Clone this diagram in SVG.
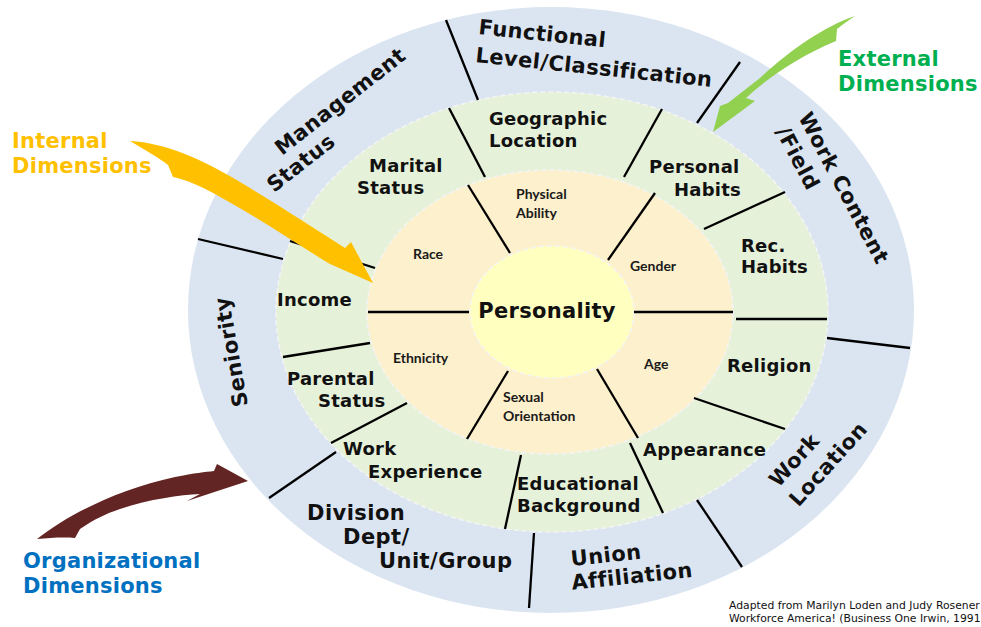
<svg xmlns="http://www.w3.org/2000/svg" width="981" height="627" viewBox="0 0 981 627">
<style>
.bg{fill:#ffffff}
.dash{stroke:#f4f4f4;stroke-width:1.5;stroke-dasharray:5 3}
.div line{stroke:#000;stroke-width:2.3;stroke-linecap:butt}
.o{font-family:"DejaVu Sans","Liberation Sans",sans-serif;font-weight:bold;font-size:21px;letter-spacing:0.45px;fill:#111}
.m{font-family:"DejaVu Sans","Liberation Sans",sans-serif;font-weight:bold;font-size:18px;letter-spacing:0.25px;fill:#111}
.i{font-family:Lato,"Liberation Sans",sans-serif;font-weight:bold;font-size:14px;fill:#1a1a1a}
.c{font-family:"DejaVu Sans","Liberation Sans",sans-serif;font-weight:bold;font-size:21px;letter-spacing:0.25px}
.f{font-family:"DejaVu Sans","Liberation Sans",sans-serif;font-size:10.8px;fill:#111}
</style>
<rect class="bg" x="0" y="0" width="981" height="627"/>
<g id="rings">
<ellipse cx="551" cy="310" rx="363" ry="303" fill="#dbe5f1"/>
<ellipse class="dash" cx="552" cy="312" rx="276" ry="220" fill="#e6f1da"/>
<ellipse class="dash" cx="550" cy="312" rx="183" ry="142" fill="#fdf0cc"/>
<ellipse class="dash" cx="552" cy="312" rx="82" ry="66" fill="#ffffc0"/>
</g>
<g id="connectors" class="div">
<line x1="446" y1="20" x2="478" y2="100"/>
<line x1="740" y1="62" x2="697" y2="123"/>
<line x1="827" y1="338" x2="910" y2="348"/>
<line x1="697" y1="500" x2="742" y2="567"/>
<line x1="534" y1="533" x2="529" y2="608"/>
<line x1="336" y1="452" x2="269" y2="498"/>
<line x1="198" y1="239" x2="283" y2="259"/>
<line x1="449" y1="108" x2="485" y2="177"/>
<line x1="662" y1="109" x2="624" y2="177"/>
<line x1="785" y1="192" x2="704" y2="229"/>
<line x1="736" y1="319" x2="827" y2="319"/>
<line x1="694" y1="398" x2="785" y2="429"/>
<line x1="630" y1="443" x2="663" y2="513"/>
<line x1="521" y1="455" x2="505" y2="529"/>
<line x1="407" y1="403" x2="331" y2="443"/>
<line x1="283" y1="357" x2="370" y2="343"/>
<line x1="290" y1="241" x2="375" y2="268"/>
<line x1="468" y1="185" x2="510" y2="253"/>
<line x1="655" y1="193" x2="608" y2="260"/>
<line x1="634" y1="312" x2="733" y2="312"/>
<line x1="368" y1="312" x2="469" y2="312"/>
<line x1="508" y1="371" x2="467" y2="439"/>
<line x1="597" y1="369" x2="638" y2="438"/>
</g>
<g id="functional-level">
<text class="o" transform="translate(478,34) rotate(6)">Functional</text>
<text class="o" transform="translate(475,62) rotate(6)">Level/Classification</text>
</g>
<g id="management-status">
<text class="o" transform="translate(282,156) rotate(-38)">Management</text>
<text class="o" transform="translate(274,193) rotate(-38)">Status</text>
</g>
<g id="work-content">
<text class="o" text-anchor="middle" dy="0.35em" transform="translate(844,188) rotate(62)">Work Content</text>
<text class="o" text-anchor="middle" dy="0.35em" transform="translate(798,158) rotate(62)">/Field</text>
</g>
<g id="seniority">
<text class="o" text-anchor="middle" dy="0.35em" transform="translate(231,352) rotate(-100)">Seniority</text>
</g>
<g id="division">
<text class="o" x="307" y="520">Division</text>
<text class="o" x="343" y="544">Dept/</text>
<text class="o" x="379" y="568">Unit/Group</text>
</g>
<g id="union-affiliation">
<text class="o" text-anchor="middle" dy="0.35em" transform="translate(606,555) rotate(-6)">Union</text>
<text class="o" text-anchor="middle" dy="0.35em" transform="translate(632,576) rotate(-6)">Affiliation</text>
</g>
<g id="work-location">
<text class="o" text-anchor="middle" dy="0.35em" transform="translate(794,460) rotate(-48)">Work</text>
<text class="o" text-anchor="middle" dy="0.35em" transform="translate(828,464) rotate(-48)">Location</text>
</g>
<g id="marital-status"><text class="m" x="369" y="172">Marital</text><text class="m" x="357" y="194">Status</text></g>
<g id="geographic-location"><text class="m" x="489" y="125">Geographic</text><text class="m" x="489" y="147">Location</text></g>
<g id="personal-habits"><text class="m" x="649" y="173">Personal</text><text class="m" x="674" y="196">Habits</text></g>
<g id="rec-habits"><text class="m" x="741" y="252">Rec.</text><text class="m" x="741" y="273">Habits</text></g>
<g id="income"><text class="m" x="277" y="306">Income</text></g>
<g id="religion"><text class="m" x="727" y="372">Religion</text></g>
<g id="parental-status"><text class="m" x="287" y="385">Parental</text><text class="m" x="318" y="407">Status</text></g>
<g id="appearance"><text class="m" x="643" y="456">Appearance</text></g>
<g id="work-experience"><text class="m" x="343" y="455">Work</text><text class="m" x="368" y="478">Experience</text></g>
<g id="educational-background"><text class="m" x="517" y="490">Educational</text><text class="m" x="517" y="512">Background</text></g>
<g id="physical-ability"><text class="i" x="516" y="199">Physical</text><text class="i" x="516" y="218">Ability</text></g>
<g id="race"><text class="i" x="413" y="259">Race</text></g>
<g id="gender"><text class="i" x="630" y="271">Gender</text></g>
<g id="ethnicity"><text class="i" x="393" y="363">Ethnicity</text></g>
<g id="age"><text class="i" x="644" y="369">Age</text></g>
<g id="sexual-orientation"><text class="i" x="503" y="402">Sexual</text><text class="i" x="503" y="421">Orientation</text></g>
<g id="personality"><text class="o" x="547" y="318" text-anchor="middle" style="letter-spacing:0.3px">Personality</text></g>
<g id="internal-dimensions">
<path fill="#ffc000" d="M130,141 C165,143 200,158 240,182 C280,206 320,232 345,248 L351,242 L373,283 L330,264 C300,246 262,220 222,198 C203,187 187,180 173,177 L168,165 C158,157 145,150 130,141 Z"/>
<text class="c" fill="#ffc000" x="12" y="148">Internal</text>
<text class="c" fill="#ffc000" x="12" y="173">Dimensions</text>
</g>
<g id="external-dimensions">
<path fill="#92d050" d="M855,16 C825,26 790,50 760,78 L728,103 L720,106 L713,132 L755,101 L746,98 C770,76 800,56 836,41 L837,29 C843,24 849,20 855,16 Z"/>
<text class="c" fill="#00b050" x="838" y="66">External</text>
<text class="c" fill="#00b050" x="838" y="91">Dimensions</text>
</g>
<g id="organizational-dimensions">
<path fill="#632523" d="M37,539 C70,513 120,489 175,477 C195,473 205,472 214,471 L217,464 L248,481 L187,501 L200,494 C180,495 150,499 120,509 C105,514 95,519 80,529 L75,538 C62,537 50,538 37,539 Z"/>
<text class="c" fill="#0070c0" x="23" y="568">Organizational</text>
<text class="c" fill="#0070c0" x="23" y="593">Dimensions</text>
</g>
<g id="source">
<text class="f" x="729" y="609">Adapted from Marilyn Loden and Judy Rosener</text>
<text class="f" x="729" y="622">Workforce America! (Business One Irwin, 1991</text>
</g>
</svg>
